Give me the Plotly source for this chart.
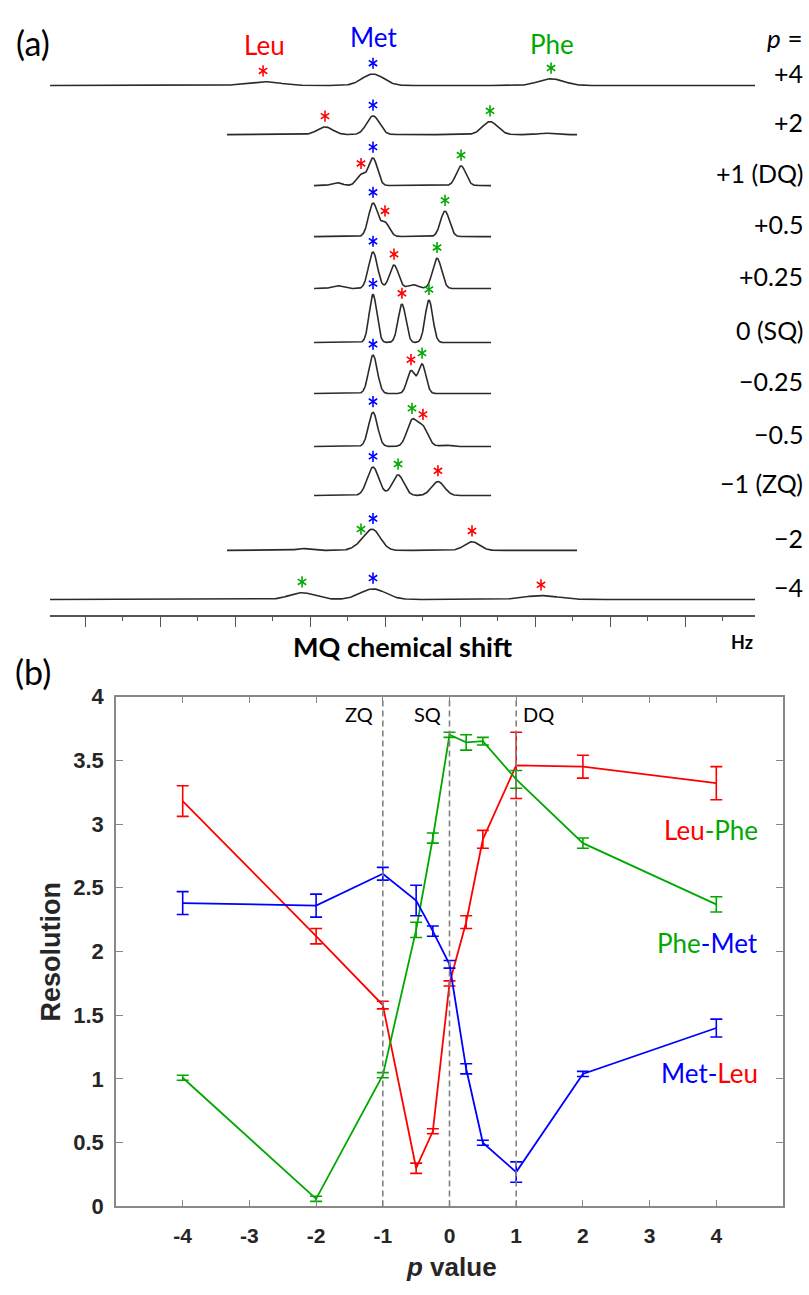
import numpy as np
import plotly.graph_objects as go

W, H = 809, 1295
RED, GREEN, BLUE = "#FF0000", "#00A800", "#0000FF"

# ---------------- panel (b) data ----------------
p_values = [-4, -2, -1, -0.5, -0.25, 0, 0.25, 0.5, 1, 2, 4]
p_ticks = [-4, -3, -2, -1, 0, 1, 2, 3, 4]
p_ticktext = ["-4", "-3", "-2", "-1", "0", "1", "2", "3", "4"]

leu_phe = [3.18, 2.12, 1.58, 0.30, 0.59, 1.75, 2.23, 2.88, 3.46, 3.45, 3.32]
leu_phe_err = [0.12, 0.06, 0.03, 0.04, 0.02, 0.02, 0.05, 0.07, 0.26, 0.09, 0.13]
phe_met = [1.01, 0.06, 1.03, 2.17, 2.89, 3.70, 3.64, 3.65, 3.35, 2.85, 2.37]
phe_met_err = [0.02, 0.02, 0.02, 0.06, 0.04, 0.02, 0.06, 0.03, 0.07, 0.04, 0.06]
met_leu = [2.38, 2.36, 2.61, 2.40, 2.16, 1.90, 1.08, 0.50, 0.27, 1.04, 1.40]
met_leu_err = [0.09, 0.09, 0.05, 0.12, 0.04, 0.03, 0.04, 0.02, 0.08, 0.02, 0.07]

# ---------------- panel (a) data ----------------
row_labels = ["+4", "+2", "+1 (DQ)", "+0.5", "+0.25", "0 (SQ)",
              "\u22120.25", "\u22120.5", "\u22121 (ZQ)", "\u22122", "\u22124"]
# spectral window (Hz)
win_lo = [-223.3, -105.3, -47.3, -47.3, -47.3, -47.3, -47.3, -47.3, -47.3, -105.3, -223.3]
win_hi = [246.7, 128.0, 70.7, 70.7, 70.7, 70.7, 70.7, 70.7, 70.7, 128.0, 246.7]
# peak positions (Hz)
met_shift = [-8, -8, -8, -8, -8, -8, -8, -8, -8, -8, -8]
leu_shift = [-81.3, -40, -16, 0, 6, 11.3, 17.3, 25.3, 35.3, 58, 104]
phe_shift = [110.7, 70, 50.7, 40, 34.7, 29.3, 24.7, 18, 8.7, -16, -55.3]
# peak heights (a.u., SQ Met = 100)
met_height = [24, 39, 57, 69, 76, 100, 80, 71, 59, 41, 22]
leu_height = [8, 16, 22, 29, 49, 80, 47, 39, 29, 18, 8]
phe_height = [14, 27, 41, 53, 63, 88, 61, 53, 43, 10, 14]
# line widths, FWHM (Hz)
met_fwhm = [17, 10, 7, 7, 7, 6, 6.7, 7, 9, 12, 20]
leu_fwhm = [27, 12, 7, 7, 7, 6, 6, 8, 10, 12, 27]
phe_fwhm = [20, 12, 7.5, 7, 7, 6, 6, 8, 9, 12, 20]
# minor baseline features: row index, position (Hz), height, FWHM
minor_row = [1, 2, 4, 4, 7, 9]
minor_pos = [107, -32, -32, 18.7, 40, -55]
minor_height = [3, 6, 6, 8, 3, 4]
minor_fwhm = [10, 8, 8, 8, 8, 10]

# ---------------- layout constants (pixels) ----------------
AX_PX = 615                     # y pixel of the MQ axis line
baseline_px = [75, 125, 177, 229, 282, 337, 389, 443, 493, 549, 599]
PX_PER_UNIT = 0.49
STAR_GAP = 11
LABEL_GAP = 13


def gauss_sum(x, centers, heights, fwhms):
    y = np.zeros_like(x)
    for c, h, w in zip(centers, heights, fwhms):
        y = y + h * np.exp(-4 * np.log(2) * ((x - c) / w) ** 2)
    return y


fig = go.Figure()

# ---- panel (a): stacked spectra ----
star_x = {"met": [], "leu": [], "phe": []}
star_y = {"met": [], "leu": [], "phe": []}
for i in range(len(row_labels)):
    cs = [met_shift[i], leu_shift[i], phe_shift[i]]
    hs = [met_height[i], leu_height[i], phe_height[i]]
    ws = [met_fwhm[i], leu_fwhm[i], phe_fwhm[i]]
    for r, pp, hh, ww in zip(minor_row, minor_pos, minor_height, minor_fwhm):
        if r == i:
            cs.append(pp); hs.append(hh); ws.append(ww)
    x = np.linspace(win_lo[i], win_hi[i], 700)
    base = AX_PX - baseline_px[i]
    y = base + PX_PER_UNIT * gauss_sum(x, cs, hs, ws)
    fig.add_trace(go.Scatter(x=x, y=y, mode="lines", xaxis="x2", yaxis="y2",
                             line=dict(color="#2a2a2a", width=1.6),
                             hoverinfo="skip", showlegend=False))
    for key, c in zip(["met", "leu", "phe"], cs[:3]):
        v = base + PX_PER_UNIT * gauss_sum(np.array([c]), cs, hs, ws)[0]
        star_x[key].append(c)
        star_y[key].append(v + STAR_GAP)

for key, col in zip(["leu", "met", "phe"], [RED, BLUE, GREEN]):
    for sym in ["y-up-open", "y-down-open"]:
        fig.add_trace(go.Scatter(x=star_x[key], y=star_y[key], mode="markers",
                                 xaxis="x2", yaxis="y2",
                                 marker=dict(symbol=sym, size=7, color=col,
                                             line=dict(color=col, width=1.6)),
                                 hoverinfo="skip", showlegend=False))

# ---- panel (b): resolution curves ----
for vals, errs, col in [(leu_phe, leu_phe_err, RED),
                        (phe_met, phe_met_err, GREEN),
                        (met_leu, met_leu_err, BLUE)]:
    fig.add_trace(go.Scatter(x=p_values, y=vals, mode="lines",
                             line=dict(color=col, width=1.8),
                             error_y=dict(type="data", array=errs, visible=True,
                                          color=col, thickness=1.6, width=6),
                             xaxis="x", yaxis="y", showlegend=False))

for xv in [-1, 0, 1]:
    fig.add_shape(type="line", xref="x", yref="y domain", x0=xv, x1=xv, y0=0, y1=1,
                  line=dict(color="#808080", width=1.6, dash="6px,4px"), layer="above")

xtickfont = dict(family="Liberation Sans", size=21, color="#262626", weight="bold")
ytickfont = dict(family="Liberation Sans", size=22, color="#262626", weight="bold")
fig.update_layout(
    width=W, height=H, autosize=False,
    margin=dict(l=0, r=0, t=0, b=0),
    paper_bgcolor="white", plot_bgcolor="rgba(0,0,0,0)",
    showlegend=False,
    xaxis=dict(domain=[116 / W, 783 / W], range=[-5, 5], anchor="y",
               tickvals=p_ticks, ticktext=p_ticktext, ticks="inside", ticklen=7,
               tickcolor="#888888", tickwidth=1.3, showline=True, linecolor="#888888",
               linewidth=1.5, mirror="ticks", showgrid=False, zeroline=False,
               tickfont=xtickfont, ticklabelstandoff=10),
    yaxis=dict(domain=[(H - 1218) / H, (H - 698) / H], range=[0, 4], anchor="x",
               dtick=0.5, tick0=0, ticks="inside", ticklen=7, tickcolor="#888888",
               tickwidth=1.3, showline=True, linecolor="#888888", linewidth=1.5,
               mirror="ticks", showgrid=False, zeroline=False, tickfont=ytickfont,
               ticklabelstandoff=6),
    xaxis2=dict(domain=[50 / W, 755 / W], range=[-223.33, 246.67], anchor="y2",
                tick0=0, dtick=50, ticks="outside", ticklen=10, tickwidth=1.3,
                tickcolor="#555555", showline=True, linecolor="#555555", linewidth=1.5,
                showticklabels=False, showgrid=False, zeroline=False,
                minor=dict(dtick=25, ticks="outside", ticklen=4, tickcolor="#555555",
                           tickwidth=1.2, showgrid=False)),
    yaxis2=dict(domain=[(H - AX_PX) / H, 1], range=[0, AX_PX], anchor="x2",
                visible=False, showgrid=False, zeroline=False),
)

ann = []
LATO = "Lato"
def px_ann(text, xp, yp, size, color="black", family=LATO, xanchor="center",
           weight="normal", angle=0):
    ann.append(dict(text=text, x=xp / W, y=1 - yp / H, xref="paper", yref="paper",
                    showarrow=False, xanchor=xanchor, yanchor="middle", textangle=angle,
                    font=dict(family=family, size=size, color=color, weight=weight)))

px_ann("(a)", 33, 31, 34)
px_ann("(b)", 33, 672, 34)
px_ann("Leu", 264, 34, 26, RED)
px_ann("Met", 373, 25, 26, BLUE)
px_ann("Phe", 552, 33, 26, GREEN)
px_ann("<i>p</i> =", 805, 27, 26, xanchor="right")
for lab, b in zip(row_labels, baseline_px):
    px_ann(lab, 805, b - LABEL_GAP, 25, xanchor="right")
px_ann("MQ chemical shift", 402, 647, 27, weight="bold")
px_ann("Hz", 755, 642, 18, xanchor="right", weight="bold")

# panel (b) text
px_ann("Resolution", 51, 958, 27, "#262626", "Liberation Sans", weight="bold", angle=-90)
px_ann("<i>p</i> value", 452, 1280, 26, "#262626", "Liberation Sans", weight="bold")
px_ann("ZQ", 375, 716, 20, xanchor="right")
px_ann("SQ", 443, 716, 20, xanchor="right")
px_ann("DQ", 521, 716, 20, xanchor="left")
px_ann("<span style='color:%s'>Leu</span><span style='color:%s'>-Phe</span>" % (RED, GREEN),
       760, 834, 26, xanchor="right")
px_ann("<span style='color:%s'>Phe</span><span style='color:%s'>-Met</span>" % (GREEN, BLUE),
       760, 949, 26, xanchor="right")
px_ann("<span style='color:%s'>Met-</span><span style='color:%s'>Leu</span>" % (BLUE, RED),
       760, 1082, 26, xanchor="right")

fig.update_layout(annotations=ann)
fig.write_html("out.html", config={"displayModeBar": False})
